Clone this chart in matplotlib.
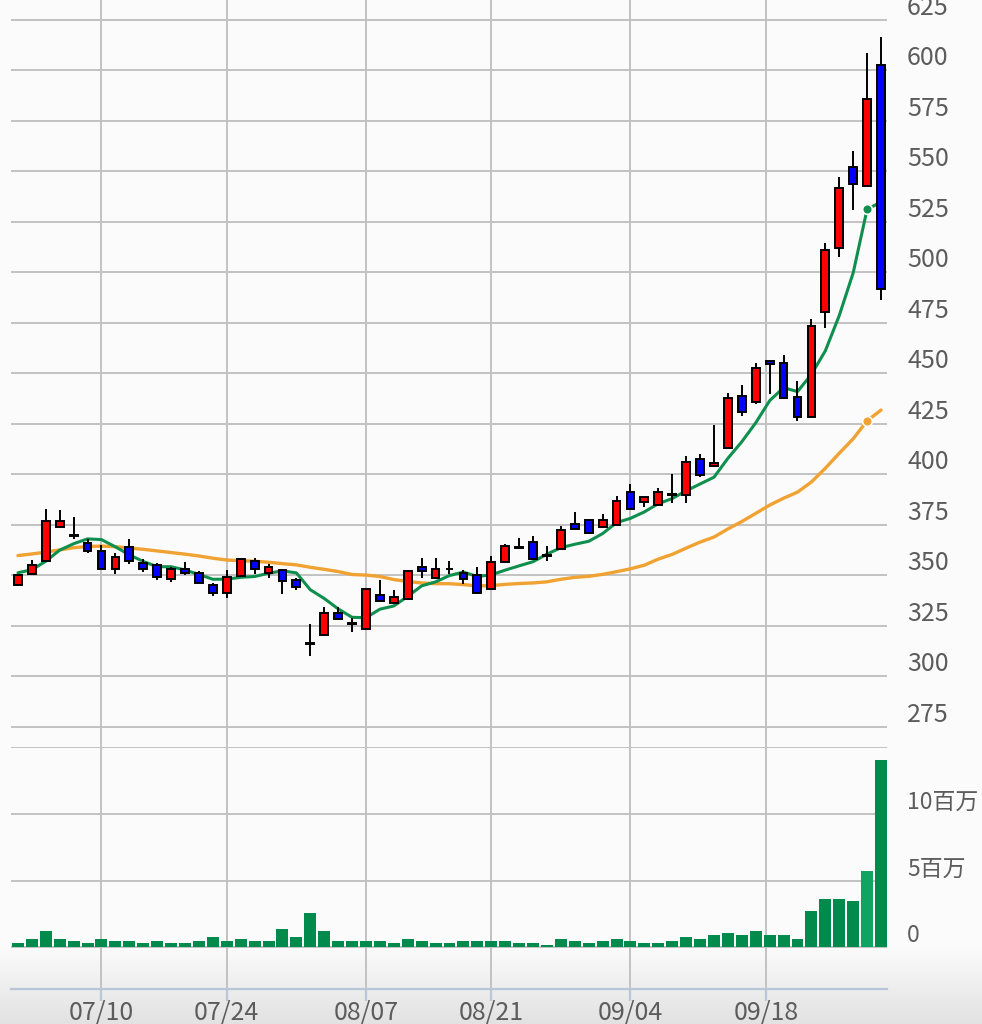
import numpy as np
import pandas as pd
import matplotlib
matplotlib.use('Agg')
import matplotlib.pyplot as plt
from matplotlib.transforms import blended_transform_factory, ScaledTranslation

plt.rcParams['font.family'] = ['Noto Sans CJK JP', 'DejaVu Sans']

# ---------------- data ----------------
holidays = ['2017-07-17', '2017-08-11', '2017-09-18']
dates = pd.bdate_range('2017-06-30', '2017-09-29')
dates = dates[~dates.isin(pd.to_datetime(holidays))]

open_ = [345.1, 350.8, 356.9, 373.9, 369.8, 366.2, 362.2, 353.0, 364.2, 355.9,
         355.1, 348.0, 353.3, 351.2, 345.2, 341.1, 349.8, 357.1, 351.0, 352.5,
         347.5, 316.6, 320.3, 331.2, 326.4, 323.3, 340.4, 336.2, 338.1, 354.1,
         348.8, 353.3, 351.3, 350.2, 343.4, 356.4, 364.2, 366.4, 360.3, 363.1,
         375.2, 377.3, 374.0, 375.0, 391.2, 386.3, 384.9, 390.3, 389.8, 407.6,
         404.0, 412.8, 438.9, 436.0, 456.0, 454.9, 438.1, 428.2, 480.3, 512.1,
         551.9, 542.6, 602.3]
high = [350.0, 357.4, 383.0, 382.1, 379.0, 368.1, 365.0, 361.2, 368.1, 357.9,
        356.3, 354.3, 356.4, 352.1, 346.4, 352.5, 357.9, 358.4, 355.4, 353.3,
        348.5, 325.8, 334.5, 334.3, 328.9, 343.2, 347.5, 342.6, 352.1, 358.4,
        358.4, 357.1, 352.6, 354.3, 359.5, 365.5, 368.6, 369.4, 364.5, 374.4,
        381.4, 377.3, 380.2, 389.2, 395.3, 389.0, 393.1, 400.4, 408.9, 410.1,
        424.5, 440.1, 444.0, 454.9, 456.6, 459.1, 446.2, 476.6, 514.2, 547.1,
        559.9, 608.3, 616.5]
low = [345.1, 350.8, 356.9, 373.9, 367.8, 360.9, 353.3, 350.8, 355.8, 351.8,
       347.7, 346.9, 350.2, 346.0, 339.8, 339.0, 349.8, 350.8, 348.5, 340.8,
       342.9, 310.1, 320.3, 328.4, 322.2, 323.3, 337.3, 336.2, 338.1, 348.5,
       348.8, 350.5, 345.9, 341.1, 343.4, 356.4, 363.6, 358.2, 357.1, 363.1,
       373.0, 370.9, 374.0, 375.0, 382.9, 383.8, 384.9, 385.7, 385.7, 398.6,
       404.0, 412.3, 428.9, 434.8, 439.6, 438.0, 426.5, 428.2, 472.2, 507.7,
       530.8, 542.6, 486.3]
close = [350.0, 355.1, 377.0, 376.9, 369.3, 362.0, 353.3, 359.1, 357.1, 353.0,
         349.0, 353.3, 351.0, 346.0, 341.1, 349.2, 357.9, 353.0, 354.1, 347.0,
         344.2, 316.2, 331.4, 328.4, 326.1, 343.2, 337.3, 339.4, 352.1, 352.1,
         353.0, 353.0, 348.0, 341.1, 356.4, 364.5, 363.6, 358.2, 359.8, 372.4,
         373.0, 370.9, 377.3, 387.0, 382.9, 389.0, 391.2, 390.0, 406.0, 399.9,
         405.7, 438.0, 431.0, 452.8, 454.6, 438.0, 428.2, 473.6, 511.1, 541.8,
         543.6, 585.5, 491.5]
volume_m = [0.28, 0.58, 1.18, 0.58, 0.43, 0.28, 0.58, 0.43, 0.43, 0.28,
            0.43, 0.28, 0.28, 0.43, 0.73, 0.43, 0.58, 0.43, 0.43, 1.33,
            0.73, 2.53, 1.18, 0.43, 0.43, 0.43, 0.43, 0.28, 0.58, 0.43,
            0.28, 0.28, 0.43, 0.43, 0.43, 0.43, 0.28, 0.28, 0.13, 0.58,
            0.43, 0.28, 0.43, 0.58, 0.43, 0.28, 0.28, 0.43, 0.73, 0.58,
            0.88, 1.03, 0.88, 1.18, 0.88, 0.88, 0.58, 2.68, 3.58, 3.58,
            3.43, 5.68, 14.08]
# moving-average values before full windows exist
ma5_head = [351.3, 352.8, 357.0, 362.5]
ma25_head = [359.8, 360.6, 361.5, 362.6, 363.7, 364.3, 364.5, 364.2, 363.5, 362.9,
             362.1, 361.3, 360.5, 359.6, 358.5, 357.6, 357.3, 357.0, 356.5, 355.8,
             355.2, 354.0, 353.0, 351.9]
hover_index = 61

tick_dates = ['2017-07-10', '2017-07-24', '2017-08-07', '2017-08-21', '2017-09-04', '2017-09-18']
price_ticks = list(range(275, 626, 25))
vol_ticks = [0, 5, 10, 15]
vol_labels = ['0', '5百万', '10百万', '']

# ---------------- derived ----------------
n = len(close)
x = np.arange(n)
c = pd.Series(close)
ma5 = c.rolling(5).mean().to_numpy()
ma25 = c.rolling(25).mean().to_numpy()
ma5[:len(ma5_head)] = ma5_head
ma25[:len(ma25_head)] = ma25_head

date_ord = np.array([d.toordinal() for d in dates[:n]])
tick_ord = np.array([pd.Timestamp(d).toordinal() for d in tick_dates])
tick_pos = np.interp(tick_ord, date_ord, x)
tick_lbl = [pd.Timestamp(d).strftime('%m/%d') for d in tick_dates]

# ---------------- figure ----------------
W, H = 982, 1024
fig = plt.figure(figsize=(W / 100, H / 100), dpi=100)
fig.patch.set_facecolor('#fcfcfc')

def rect(x0, y0, x1, y1):
    return [x0 / W, 1 - y1 / H, (x1 - x0) / W, (y1 - y0) / H]

# background gradient
bg = fig.add_axes([0, 0, 1, 1], zorder=-5)
rows = np.arange(H)
g = np.where(rows < 945, 0.988, 0.988 - (rows - 945) / (H - 945) * (0.988 - 0.885))
img = np.repeat(g[:, None], 2, axis=1)
bg.imshow(np.dstack([img, img, img]), aspect='auto', extent=[0, 1, 0, 1], origin='upper')
bg.set_axis_off()

ax1 = fig.add_axes(rect(11, 0, 887, 747))
ax2 = fig.add_axes(rect(11, 747, 887, 989), sharex=ax1)

grid_c = '#c2c2c2'
text_c = '#5c5c5c'
axis_c = '#b8c6d8'

for ax in (ax1, ax2):
    ax.set_facecolor('none')
    for s in ax.spines.values():
        s.set_visible(False)
    ax.set_xticks(tick_pos)
    ax.grid(True, color=grid_c, linewidth=1.4, zorder=0)
    ax.tick_params(labelleft=False, labelright=False, labelbottom=False,
                   left=False, right=False, bottom=False)
    ax.set_axisbelow(True)

ax1.set_xlim(-0.50, 62.43)
ax1.set_ylim(265.1, 634.65)
ax1.set_yticks(price_ticks)

ax2.set_ylim(-3.15, 15.03)
ax2.set_yticks(vol_ticks)
ax2.spines['bottom'].set_visible(True)
ax2.spines['bottom'].set_position(('axes', 0))
ax2.spines['bottom'].set_color(axis_c)
ax2.spines['bottom'].set_linewidth(1.6)
ax2.tick_params(axis='x', bottom=True, direction='out', length=8.5, width=1.6, color=axis_c)

# moving averages
ax1.plot(x, ma25, color='#f0a232', linewidth=2.4, zorder=2, solid_capstyle='round')
ax1.plot(x, ma5, color='#0f8f4e', linewidth=2.2, zorder=2, solid_capstyle='round')
ax1.plot([hover_index], [ma25[hover_index]], 'o', color='#f0a232', markersize=7,
         markeredgecolor='white', markeredgewidth=1.2, zorder=3)
ax1.plot([hover_index], [ma5[hover_index]], 'o', color='#0f8f4e', markersize=7,
         markeredgecolor='white', markeredgewidth=1.2, zorder=3)

# candles
o = np.array(open_); cl = np.array(close)
up = cl >= o
colors = np.where(up, '#ff0000', '#0000ff')
ax1.vlines(x, low, high, color='black', linewidth=1.4, zorder=4)
ax1.bar(x, np.abs(cl - o), bottom=np.minimum(o, cl), width=0.56, color=colors,
        edgecolor='black', linewidth=1.4, zorder=5)

# volume
vcol = ['#008a4b'] * n
vcol[hover_index] = '#10a462'
ax2.bar(x, volume_m, width=0.86, color=vcol, zorder=3)

# labels
off_right = ScaledTranslation(20 / 100, 5 / 100, fig.dpi_scale_trans)
tr1 = blended_transform_factory(ax1.transAxes, ax1.transData) + off_right
for v in price_ticks:
    ax1.text(1.0, v, str(v), transform=tr1, ha='left', va='baseline',
             fontsize=18, color=text_c, clip_on=False)
tr2 = blended_transform_factory(ax2.transAxes, ax2.transData) + off_right
for v, lbl in zip(vol_ticks, vol_labels):
    if lbl:
        ax2.text(1.0, v, lbl, transform=tr2, ha='left', va='baseline',
                 fontsize=16.5, color=text_c, clip_on=False)
tr3 = blended_transform_factory(ax2.transData, ax2.transAxes) + ScaledTranslation(0, -31 / 100, fig.dpi_scale_trans)
for p, lbl in zip(tick_pos, tick_lbl):
    ax2.text(p, 0, lbl, transform=tr3, ha='center', va='baseline',
             fontsize=18, color=text_c, clip_on=False)

fig.savefig('out.png', dpi=100, facecolor=fig.get_facecolor())
